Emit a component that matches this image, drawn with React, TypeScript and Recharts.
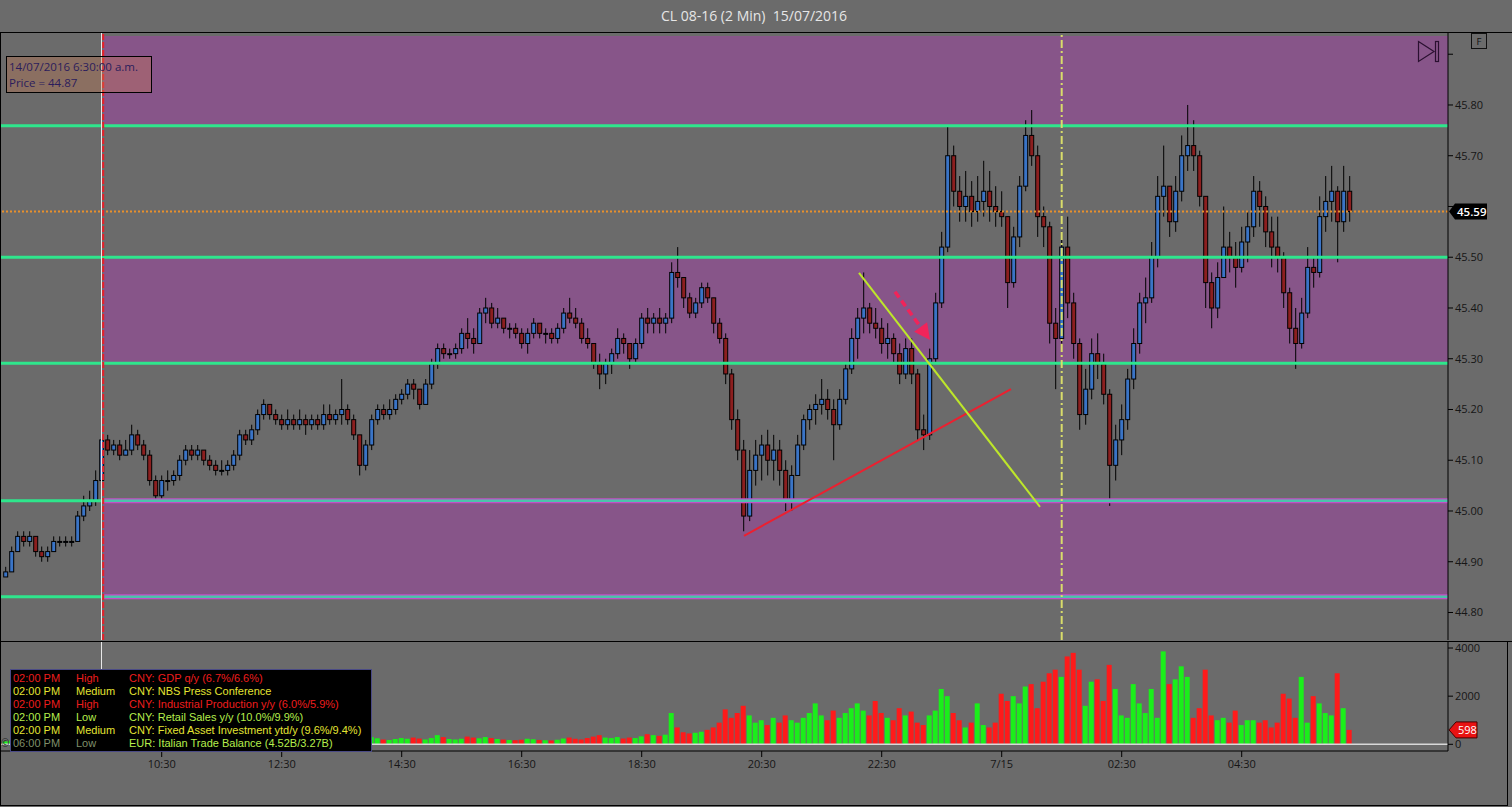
import React from 'react';
import { ComposedChart, Bar, XAxis, YAxis, ReferenceLine, ReferenceArea, ReferenceDot } from 'recharts';

// ---------- DATA ----------
const firstBarMinute = -156; // minutes relative to 10:30 (14 Jul)
const barMinutes = 6;
const firstOpen = 44.87;

const highs = [
  44.89,44.93,44.96,44.96,44.96,44.95,44.93,44.93,44.95,44.95,
  44.95,44.95,45.00,45.03,45.04,45.08,45.15,45.15,45.14,45.14,
  45.14,45.17,45.16,45.14,45.12,45.07,45.07,45.08,45.08,45.11,
  45.13,45.13,45.13,45.12,45.11,45.10,45.10,45.10,45.12,45.16,
  45.16,45.17,45.20,45.22,45.21,45.20,45.19,45.20,45.19,45.20,
  45.19,45.19,45.19,45.21,45.21,45.20,45.26,45.21,45.19,45.15,
  45.14,45.19,45.21,45.21,45.22,45.23,45.24,45.26,45.26,45.24,
  45.26,45.30,45.33,45.33,45.32,45.33,45.36,45.38,45.36,45.40,
  45.42,45.41,45.40,45.38,45.37,45.37,45.36,45.36,45.38,45.37,
  45.36,45.36,45.37,45.40,45.42,45.40,45.38,45.36,45.33,45.31,
  45.30,45.32,45.36,45.35,45.33,45.34,45.39,45.40,45.39,45.40,
  45.39,45.49,45.52,45.46,45.43,45.42,45.45,45.45,45.42,45.38,
  45.35,45.28,45.20,45.14,45.12,45.14,45.15,45.16,45.15,45.14,
  45.10,45.09,45.15,45.19,45.21,45.23,45.26,45.24,45.22,45.24,
  45.29,45.36,45.40,45.47,45.41,45.40,45.38,45.37,45.35,45.33,
  45.34,45.34,45.28,45.19,45.32,45.43,45.55,45.76,45.72,45.66,
  45.67,45.65,45.66,45.69,45.67,45.64,45.63,45.58,45.56,45.66,
  45.77,45.79,45.72,45.60,45.57,45.40,45.55,45.58,45.43,45.34,
  45.28,45.34,45.35,45.31,45.24,45.17,45.21,45.28,45.36,45.43,
  45.46,45.53,45.66,45.72,45.64,45.66,45.74,45.80,45.77,45.71,
  45.62,45.47,45.49,45.60,45.55,45.53,45.56,45.59,45.66,45.65,
  45.62,45.58,45.58,45.51,45.44,45.40,45.42,45.52,45.50,45.62,
  45.66,45.68,45.64,45.68,45.66,
];

const lows = [
  44.87,44.88,44.92,44.93,44.93,44.91,44.90,44.90,44.92,44.93,
  44.93,44.93,44.94,44.98,45.00,45.01,45.06,45.11,45.11,45.10,
  45.11,45.11,45.12,45.10,45.05,45.02,45.02,45.04,45.05,45.06,
  45.09,45.10,45.10,45.09,45.08,45.07,45.07,45.07,45.08,45.10,
  45.13,45.13,45.15,45.18,45.18,45.17,45.16,45.16,45.16,45.16,
  45.15,45.16,45.16,45.16,45.17,45.17,45.17,45.17,45.14,45.07,
  45.08,45.12,45.17,45.18,45.18,45.19,45.21,45.22,45.22,45.20,
  45.21,45.24,45.28,45.30,45.30,45.30,45.31,45.32,45.31,45.33,
  45.37,45.36,45.36,45.35,45.34,45.34,45.32,45.31,45.34,45.34,
  45.33,45.33,45.33,45.35,45.37,45.36,45.33,45.32,45.28,45.24,
  45.25,45.27,45.30,45.31,45.28,45.29,45.32,45.35,45.35,45.35,
  45.35,45.37,45.44,45.40,45.38,45.38,45.40,45.41,45.35,45.33,
  45.25,45.16,45.10,44.96,44.98,45.05,45.06,45.07,45.06,45.05,
  45.00,45.00,45.07,45.12,45.16,45.17,45.19,45.18,45.10,45.16,
  45.21,45.27,45.30,45.35,45.35,45.34,45.31,45.30,45.29,45.25,
  45.26,45.25,45.14,45.12,45.14,45.29,45.40,45.51,45.60,45.57,
  45.57,45.56,45.57,45.58,45.57,45.56,45.56,45.40,45.44,45.52,
  45.63,45.68,45.54,45.52,45.33,45.24,45.33,45.38,45.30,45.16,
  45.17,45.22,45.26,45.21,45.01,45.06,45.11,45.16,45.24,45.31,
  45.37,45.41,45.48,45.58,45.54,45.55,45.61,45.67,45.67,45.60,
  45.40,45.36,45.38,45.48,45.47,45.44,45.47,45.49,45.54,45.56,
  45.52,45.48,45.47,45.40,45.33,45.28,45.32,45.38,45.44,45.46,
  45.55,45.57,45.49,45.55,45.57,
];

const closes = [
  44.88,44.92,44.95,44.94,44.95,44.92,44.91,44.92,44.94,44.94,
  44.94,44.94,44.99,45.01,45.02,45.06,45.14,45.12,45.13,45.11,
  45.12,45.15,45.13,45.11,45.06,45.03,45.06,45.06,45.07,45.10,
  45.12,45.11,45.12,45.10,45.09,45.08,45.08,45.09,45.11,45.15,
  45.14,45.16,45.19,45.21,45.19,45.18,45.17,45.18,45.17,45.18,
  45.17,45.18,45.17,45.19,45.18,45.19,45.20,45.18,45.15,45.09,
  45.13,45.18,45.20,45.19,45.20,45.22,45.23,45.25,45.24,45.21,
  45.25,45.29,45.32,45.31,45.31,45.32,45.35,45.34,45.33,45.39,
  45.40,45.37,45.38,45.36,45.36,45.35,45.33,45.35,45.37,45.35,
  45.35,45.34,45.36,45.39,45.38,45.37,45.34,45.33,45.29,45.27,
  45.29,45.31,45.34,45.33,45.30,45.33,45.38,45.37,45.38,45.37,
  45.38,45.47,45.46,45.42,45.39,45.41,45.44,45.42,45.37,45.34,
  45.27,45.18,45.12,44.99,45.08,45.11,45.13,45.10,45.12,45.08,
  45.02,45.07,45.13,45.18,45.20,45.21,45.22,45.20,45.17,45.22,
  45.28,45.34,45.38,45.40,45.37,45.36,45.33,45.34,45.31,45.27,
  45.32,45.27,45.16,45.15,45.30,45.41,45.52,45.70,45.63,45.60,
  45.62,45.59,45.61,45.63,45.60,45.59,45.58,45.45,45.54,45.64,
  45.74,45.70,45.58,45.56,45.37,45.34,45.52,45.41,45.33,45.19,
  45.24,45.31,45.29,45.23,45.09,45.14,45.18,45.26,45.33,45.41,
  45.42,45.50,45.62,45.64,45.57,45.63,45.70,45.72,45.70,45.62,
  45.45,45.40,45.46,45.52,45.50,45.48,45.53,45.56,45.63,45.60,
  45.55,45.52,45.50,45.43,45.36,45.33,45.39,45.48,45.47,45.58,
  45.61,45.63,45.57,45.63,45.59,
];

const volumes = [
  120,150,200,130,110,160,120,90,140,100,
  80,110,250,300,280,420,650,300,250,200,
  180,260,210,190,350,300,200,180,170,230,
  210,180,160,150,140,130,170,150,220,260,
  200,210,280,300,220,180,160,150,170,140,
  150,160,130,150,200,170,160,350,200,260,
  380,300,250,200,180,220,260,230,280,240,
  200,260,380,300,220,200,230,320,280,250,
  300,260,220,200,180,170,190,230,210,180,
  170,160,190,240,280,230,200,260,320,380,
  280,260,300,240,280,260,330,420,380,350,
  400,1300,700,500,450,480,520,600,700,900,
  1450,1100,1300,1600,1200,900,1000,800,1100,900,
  1200,1000,900,1100,1300,1700,1200,1000,1400,1100,
  1300,1500,1700,1400,1200,1800,1300,1100,1000,1500,
  1200,1360,900,800,1200,1400,2300,2000,1300,1000,
  700,900,1700,800,700,900,2100,1800,2000,1700,
  2400,2500,1500,2600,2950,3100,2800,3650,3800,3100,
  1600,2600,2700,1800,3300,2300,1200,1100,2500,1700,
  1300,2300,1100,3860,2500,2700,3240,2800,1100,1500,
  3100,1200,1000,1100,900,1400,800,1000,1000,900,
  1000,700,900,2100,1900,1100,2800,900,2000,1700,
  1300,1200,2950,1500,598,
];

const timeTickMinutes = [0, 120, 240, 360, 480, 600, 720, 840, 960, 1080];
const timeTickLabels = ['10:30', '12:30', '14:30', '16:30', '18:30', '20:30', '22:30', '7/15', '02:30', '04:30'];
const priceTicks = [44.8, 44.9, 45.0, 45.1, 45.2, 45.3, 45.4, 45.5, 45.6, 45.7, 45.8, 45.9];
const hiddenPriceTickLabels = [45.6, 45.9];
const volumeTicks = [0, 2000, 4000];

// horizontal levels / zones (price)
const upperLevels = [45.759, 45.5, 45.291];
const lowerLevels = [45.02, 44.831];
const zoneLows = [45.759, 45.291, 44.831];
const zoneHighs = [45.936, 45.5, 45.02];

// annotation markers (minutes relative to 10:30)
const sessionLineMinute = -58.5;
const cursorLineMinute = -60.2;
const dayLineMinute = 900;
const supportSeg = [{ m: 582.3, p: 44.951 }, { m: 849.3, p: 45.24 }];
const resistSeg = [{ m: 697.3, p: 45.469 }, { m: 878.3, p: 45.008 }];
const arrowSeg = [{ m: 733.3, p: 45.432 }, { m: 768.3, p: 45.337 }];

const eventTimes = ['02:00 PM', '02:00 PM', '02:00 PM', '02:00 PM', '02:00 PM', '06:00 PM'];
const eventImpacts = ['High', 'Medium', 'High', 'Low', 'Medium', 'Low'];
const eventTexts = [
  'CNY: GDP q/y (6.7%/6.6%)',
  'CNY: NBS Press Conference',
  'CNY: Industrial Production y/y (6.0%/5.9%)',
  'CNY: Retail Sales y/y (10.0%/9.9%)',
  'CNY: Fixed Asset Investment ytd/y (9.6%/9.4%)',
  'EUR: Italian Trade Balance (4.52B/3.27B)',
];

// ---------- CONFIG ----------
const X_MIN = -161.7;
const X_MAX = 1286.3;
const PRICE_MIN = 44.7458;
const PRICE_MAX = 45.9438;
const VOL_MIN = -278;
const VOL_MAX = 4250;

const BG = '#6b6b6b';
const ZONE = '#875589';
const GREEN_LINE = '#2ee68c';
const TEAL_LINE = '#4cc2aa';
const MAGENTA_EDGE = '#c24fc6';
const AXIS_FONT = 'Open Sans, Noto Sans, sans-serif';

const impactColor: Record<string, string> = { High: '#ee1d1d', Medium: '#e4e432', Low: '#b6ee4c' };

const data = closes.map((c, i) => ({
  m: firstBarMinute + i * barMinutes,
  open: i === 0 ? firstOpen : closes[i - 1],
  high: highs[i],
  low: lows[i],
  close: c,
  vol: volumes[i],
}));

const lastClose = closes[closes.length - 1];
const lastVol = volumes[volumes.length - 1];

const CandleShape = (props: any) => {
  const { x, y, width, height, index } = props;
  const d = props.payload && props.payload.high !== undefined ? props.payload : data[index];
  if (!d || x == null || y == null) return null;
  const top = Math.min(y, y + height);
  const h = Math.abs(height);
  const ppu = h / (d.high - d.low || 1);
  const yOf = (v: number) => top + (d.high - v) * ppu;
  const cx = x + width / 2;
  const bTop = yOf(Math.max(d.open, d.close));
  const bBot = yOf(Math.min(d.open, d.close));
  const up = d.close >= d.open;
  return (
    <g>
      <line x1={cx} x2={cx} y1={top} y2={top + h} stroke="#000" strokeWidth={1} />
      <rect x={x} y={bTop} width={width} height={Math.max(1, bBot - bTop)}
        fill={up ? '#3a74c6' : '#8c1f1f'} stroke="#000" strokeWidth={1} />
    </g>
  );
};

const VolumeShape = (props: any) => {
  const { x, y, width, height, index } = props;
  const d = props.payload && props.payload.close !== undefined ? props.payload : data[index];
  if (!d || x == null || y == null) return null;
  const up = d.close >= d.open;
  return <rect x={x} y={Math.min(y, y + height)} width={width} height={Math.abs(height)} fill={up ? '#1aef1a' : '#ff1a1a'} />;
};

const ArrowShape = (p: any) => {
  const { x1, y1, x2, y2 } = p;
  if ([x1, y1, x2, y2].some((v) => v == null || isNaN(v))) return null;
  const dx = x2 - x1, dy = y2 - y1;
  const L = Math.hypot(dx, dy) || 1;
  const ux = dx / L, uy = dy / L;
  const hl = 16, hw = 8;
  const bx = x2 - ux * hl, by = y2 - uy * hl;
  return (
    <g>
      <line x1={x1} y1={y1} x2={bx + ux * 2} y2={by + uy * 2} stroke="#f0245a" strokeWidth={3.5} strokeDasharray="7 4" />
      <polygon points={`${x2},${y2} ${bx - uy * hw},${by + ux * hw} ${bx + uy * hw},${by - ux * hw}`} fill="#f0245a" />
    </g>
  );
};

const PriceBadge = (p: any) => {
  const { cx, cy } = p;
  return (
    <g>
      <polygon points={`${cx + 1},${cy} ${cx + 7},${cy - 8} ${cx + 39},${cy - 8} ${cx + 39},${cy + 8} ${cx + 7},${cy + 8}`} fill="#000" />
      <text x={cx + 9} y={cy + 4} fill="#fff" fontSize={11.5} fontWeight={600} fontFamily={AXIS_FONT}>{lastClose.toFixed(2)}</text>
    </g>
  );
};

const VolumeBadge = (p: any) => {
  const { cx, cy } = p;
  return (
    <g>
      <polygon points={`${cx + 1},${cy} ${cx + 8},${cy - 8} ${cx + 29},${cy - 8} ${cx + 29},${cy + 8} ${cx + 8},${cy + 8}`} fill="#e81212" stroke="#400" strokeWidth={1} />
      <text x={cx + 10} y={cy + 4} fill="#fff" fontSize={11} fontFamily={AXIS_FONT}>{String(lastVol)}</text>
    </g>
  );
};

const axisTick = { fill: '#161616', fontSize: 11, fontFamily: AXIS_FONT };

export default function App() {
  return (
    <div style={{ position: 'relative', width: 1512, height: 807, background: BG, overflow: 'hidden' }}>
      <style>{'html,body{margin:0;padding:0;background:#6b6b6b;overflow:hidden}'}</style>

      {/* PRICE PANEL */}
      <div style={{ position: 'absolute', left: 0, top: 0 }}>
        <ComposedChart width={1512} height={641} data={data} margin={{ top: 32, right: 0, bottom: 1, left: 0 }}>
          <XAxis dataKey="m" type="number" domain={[X_MIN, X_MAX]} allowDataOverflow hide />
          <YAxis orientation="right" width={64} type="number" domain={[PRICE_MIN, PRICE_MAX]} allowDataOverflow
            ticks={priceTicks} interval={0} tickSize={5} tickMargin={2}
            tickFormatter={(v: number) => (hiddenPriceTickLabels.some((h) => Math.abs(h - v) < 1e-6) ? '' : v.toFixed(2))}
            tick={axisTick} axisLine={{ stroke: '#000' }} tickLine={{ stroke: '#000' }} />

          {zoneLows.map((lo, i) => (
            <ReferenceArea key={'z' + i} x1={sessionLineMinute} x2={X_MAX} y1={lo} y2={zoneHighs[i]}
              fill={ZONE} fillOpacity={1} stroke="none" ifOverflow="visible" />
          ))}

          {upperLevels.map((v, i) => (
            <ReferenceLine key={'u' + i} y={v} stroke={GREEN_LINE} strokeWidth={3} />
          ))}
          {lowerLevels.map((v, i) => (
            <ReferenceLine key={'la' + i} segment={[{ x: X_MIN, y: v }, { x: sessionLineMinute, y: v }]} stroke={GREEN_LINE} strokeWidth={3} />
          ))}
          {lowerLevels.map((v, i) => (
            <ReferenceLine key={'lb' + i} segment={[{ x: sessionLineMinute, y: v }, { x: X_MAX, y: v }]} stroke={MAGENTA_EDGE} strokeWidth={5} />
          ))}
          {lowerLevels.map((v, i) => (
            <ReferenceLine key={'lc' + i} segment={[{ x: sessionLineMinute, y: v }, { x: X_MAX, y: v }]} stroke={TEAL_LINE} strokeWidth={2.5} />
          ))}

          <ReferenceLine y={lastClose} stroke="#e8902c" strokeWidth={2} strokeDasharray="2 2" />
          <ReferenceLine x={cursorLineMinute} stroke="#e8e8e8" strokeWidth={1} />
          <ReferenceLine x={sessionLineMinute} stroke="#e8202a" strokeWidth={2} strokeDasharray="6 2" />
          <ReferenceLine x={dayLineMinute} stroke="#d8dc6a" strokeWidth={2} strokeDasharray="8 3 2 3" />

          <Bar dataKey={(d: any) => [d.low, d.high]} barSize={4} shape={CandleShape} isAnimationActive={false} />

          <ReferenceLine segment={[{ x: supportSeg[0].m, y: supportSeg[0].p }, { x: supportSeg[1].m, y: supportSeg[1].p }]}
            stroke="#ec2030" strokeWidth={2} />
          <ReferenceLine segment={[{ x: resistSeg[0].m, y: resistSeg[0].p }, { x: resistSeg[1].m, y: resistSeg[1].p }]}
            stroke="#bde62a" strokeWidth={2} />
          <ReferenceLine segment={[{ x: arrowSeg[0].m, y: arrowSeg[0].p }, { x: arrowSeg[1].m, y: arrowSeg[1].p }]}
            stroke="#f0245a" strokeWidth={3.5} shape={ArrowShape} />

          <ReferenceDot x={X_MAX} y={lastClose} r={0} ifOverflow="visible" shape={PriceBadge} />
        </ComposedChart>
      </div>

      {/* VOLUME PANEL */}
      <div style={{ position: 'absolute', left: 0, top: 641 }}>
        <ComposedChart width={1512} height={166} data={data} margin={{ top: 1, right: 0, bottom: 26, left: 0 }}>
          <XAxis dataKey="m" type="number" domain={[X_MIN, X_MAX]} allowDataOverflow height={30}
            ticks={timeTickMinutes} interval={0} tickSize={6} tickMargin={3}
            tickFormatter={(v: number) => timeTickLabels[timeTickMinutes.indexOf(v)] ?? ''}
            tick={axisTick} axisLine={{ stroke: '#000' }} tickLine={{ stroke: '#000' }} />
          <YAxis orientation="right" width={64} type="number" domain={[VOL_MIN, VOL_MAX]} allowDataOverflow
            ticks={volumeTicks} interval={0} tickSize={5} tickMargin={2}
            tick={axisTick} axisLine={{ stroke: '#000' }} tickLine={{ stroke: '#000' }} />
          <ReferenceLine y={0} stroke="#d8d8d8" strokeWidth={1.5} />
          <ReferenceLine x={cursorLineMinute} stroke="#e8e8e8" strokeWidth={1} />
          <Bar dataKey="vol" barSize={5} shape={VolumeShape} isAnimationActive={false} />
          <ReferenceDot x={X_MAX} y={lastVol} r={0} ifOverflow="visible" shape={VolumeBadge} />
        </ComposedChart>
      </div>

      {/* FRAME, TITLE, OVERLAYS */}
      <svg width={1512} height={807} style={{ position: 'absolute', left: 0, top: 0, pointerEvents: 'none' }}>
        <text x={754} y={21} textAnchor="middle" fill="#e6e6e6" fontSize={14} fontFamily={AXIS_FONT} style={{ whiteSpace: 'pre' }}>
          {'CL 08-16 (2 Min)  15/07/2016'}
        </text>
        <line x1={0} y1={32.5} x2={1512} y2={32.5} stroke="#000" strokeWidth={1} />
        <line x1={0} y1={641.5} x2={1512} y2={641.5} stroke="#000" strokeWidth={1} />
        <line x1={0.5} y1={32} x2={0.5} y2={806} stroke="#000" strokeWidth={1} />
        <line x1={0} y1={805.5} x2={1508} y2={805.5} stroke="#000" strokeWidth={1} />
        <line x1={1507.5} y1={641} x2={1507.5} y2={806} stroke="#000" strokeWidth={1} />

        {/* cursor tooltip */}
        <rect x={6.5} y={56.5} width={145} height={36} fill="rgba(200,120,80,0.35)" stroke="#000" strokeWidth={1} />
        <text x={9} y={71} fill="#2b1d5c" fontSize={11.5} fontFamily={AXIS_FONT}>14/07/2016 6:30:00 a.m.</text>
        <text x={9} y={87} fill="#2b1d5c" fontSize={11.5} fontFamily={AXIS_FONT}>Price = 44.87</text>

        {/* toolbar icons */}
        <polygon points="1418.5,41.5 1434,51.5 1418.5,61.5" fill="none" stroke="#2a1030" strokeWidth={1.2} />
        <rect x={1435.5} y={41.5} width={3} height={20} fill="none" stroke="#2a1030" strokeWidth={1.2} />
        <rect x={1471.5} y={33.5} width={15} height={15} fill="none" stroke="#111" strokeWidth={1} />
        <text x={1479} y={45} textAnchor="middle" fill="#111" fontSize={9.5} fontFamily={AXIS_FONT}>F</text>

        {/* economic events table */}
        <rect x={10.5} y={669.5} width={361} height={82} fill="#000" stroke="#4a4a86" strokeWidth={1} />
        {eventTexts.map((t, i) => {
          const y = 682 + i * 13;
          const col = impactColor[eventImpacts[i]];
          const dim = i === eventTexts.length - 1;
          return (
            <g key={'ev' + i} fontFamily="Liberation Sans, Arial, sans-serif" fontSize={11}>
              <text x={13} y={y} fill={dim ? '#7f8f6a' : col}>{eventTimes[i]}</text>
              <text x={76} y={y} fill={dim ? '#7f8f6a' : col}>{eventImpacts[i]}</text>
              <text x={129} y={y} fill={col}>{t}</text>
            </g>
          );
        })}
        <text x={1} y={747} fill="#222" fontSize={10} fontFamily={AXIS_FONT}>©</text>
      </svg>
    </div>
  );
}
